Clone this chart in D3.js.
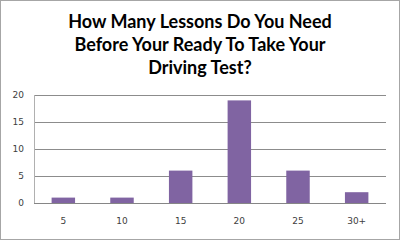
<!DOCTYPE html>
<html><head><meta charset="utf-8">
<script src="https://cdn.jsdelivr.net/npm/d3@7"></script>
<style>body{margin:0;background:#fff}svg{display:block}</style>
</head><body>
<script>
const categories = ["5","10","15","20","25","30+"];
const values = [1,1,6,19,6,2];
const yTicks = [0,5,10,15,20];
const titleLines = ["How Many Lessons Do You Need","Before Your Ready To Take Your","Driving Test?"];

const W=400,H=241;
const svg=d3.select("body").append("svg").attr("width",W).attr("height",H);
svg.append("rect").attr("x",0.5).attr("y",0.5).attr("width",W-1).attr("height",H-2)
  .attr("fill","#fff").attr("stroke","#a6a6a6");

const m={l:34,r:386,t:95,b:203};
const x=d3.scaleBand().domain(categories).range([m.l,m.r]).paddingInner(0.6).paddingOuter(0.3);
const y=d3.scaleLinear().domain([0,20]).range([m.b,m.t]);

svg.append("g").selectAll("line").data(yTicks.filter(d=>d>0)).join("line")
  .attr("x1",m.l).attr("x2",m.r).attr("y1",d=>Math.round(y(d))+0.5).attr("y2",d=>Math.round(y(d))+0.5)
  .attr("stroke","#8c8c8c").attr("stroke-width",1);

svg.append("line").attr("x1",m.l+0.5).attr("x2",m.l+0.5).attr("y1",m.t).attr("y2",m.b)
  .attr("stroke","#b0b0b0");

svg.append("g").selectAll("rect").data(values).join("rect")
  .attr("x",(d,i)=>x(categories[i])).attr("width",x.bandwidth())
  .attr("y",d=>y(d)).attr("height",d=>y(0)-y(d)).attr("fill","#8064a2");

svg.append("line").attr("x1",m.l).attr("x2",m.r).attr("y1",m.b+0.5).attr("y2",m.b+0.5)
  .attr("stroke","#868686");

const yAxis=d3.axisLeft(y).tickValues(yTicks).tickSize(0).tickPadding(10);
const gy=svg.append("g").attr("transform",`translate(${m.l},0)`).call(yAxis);
gy.select(".domain").remove();
gy.selectAll("text").attr("font-family","'DejaVu Sans', sans-serif").attr("font-size",9).attr("fill","#404040");

const xAxis=d3.axisBottom(x).tickSize(0).tickPadding(15);
const gx=svg.append("g").attr("transform",`translate(0,${m.b})`).call(xAxis);
gx.select(".domain").remove();
gx.selectAll("text").attr("font-family","'DejaVu Sans', sans-serif").attr("font-size",9).attr("fill","#404040");

svg.append("g").selectAll("text").data(titleLines).join("text")
  .attr("x",200).attr("y",(d,i)=>28+i*23).attr("text-anchor","middle")
  .attr("font-family","Lato, 'Open Sans', sans-serif").attr("font-weight","bold")
  .attr("font-size",18).attr("fill","#000").text(d=>d);
</script>
</body></html>
